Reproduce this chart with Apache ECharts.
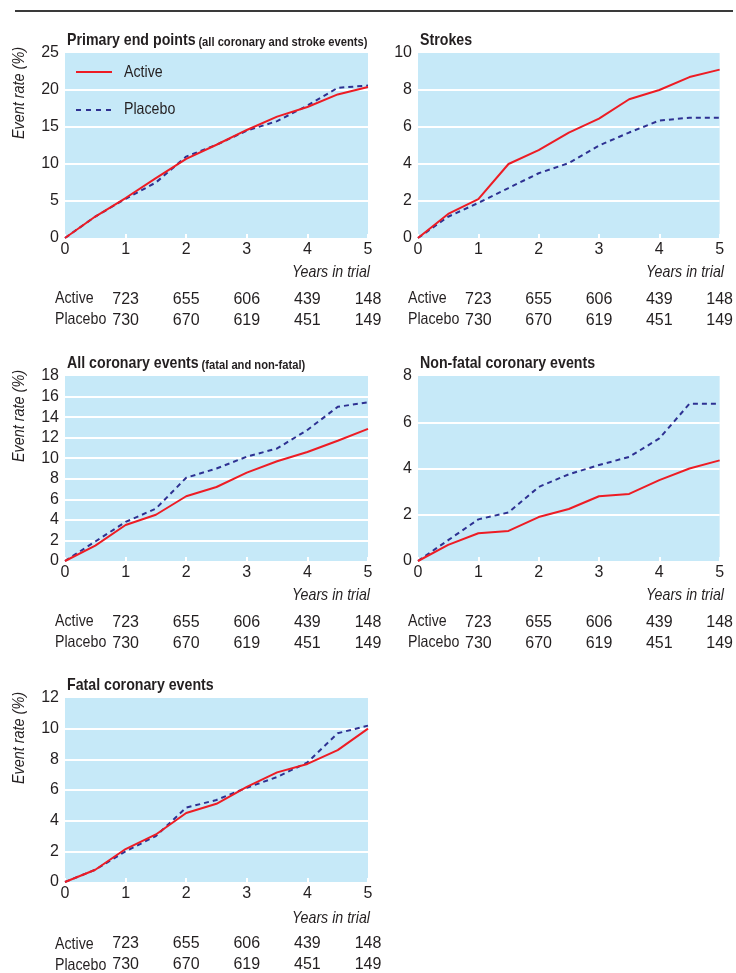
<!DOCTYPE html>
<html>
<head>
<meta charset="utf-8">
<script src="https://cdn.jsdelivr.net/npm/echarts@6/dist/echarts.min.js"></script>
<style>
html,body{margin:0;padding:0;background:#fff;}
#c{width:736px;height:973px;}
</style>
</head>
<body>
<div id="c"></div>
<script>
// ---- data ----
var years = [0, 0.5, 1, 1.5, 2, 2.5, 3, 3.5, 4, 4.5, 5];
var countTicks = [1, 2, 3, 4, 5];
var activeN = [723, 655, 606, 439, 148];
var placeboN = [730, 670, 619, 451, 149];

var titles = ["Primary end points", "Strokes", "All coronary events", "Non-fatal coronary events", "Fatal coronary events"];
var subtitles = ["(all coronary and stroke events)", "", "(fatal and non-fatal)", "", ""];
var yMax = [25, 10, 18, 8, 12];
var yStep = [5, 2, 2, 2, 2];

var primaryActive  = [0, 2.9, 5.4, 8.1, 10.7, 12.6, 14.6, 16.4, 17.7, 19.4, 20.4];
var primaryPlacebo = [0, 2.9, 5.3, 7.5, 11.0, 12.6, 14.5, 15.8, 17.9, 20.3, 20.6];
var strokesActive  = [0, 1.3, 2.1, 4.0, 4.75, 5.7, 6.45, 7.5, 8.0, 8.7, 9.1];
var strokesPlacebo = [0, 1.15, 1.9, 2.7, 3.5, 4.05, 5.0, 5.7, 6.35, 6.5, 6.5];
var allCorActive   = [0, 1.5, 3.5, 4.5, 6.3, 7.2, 8.6, 9.7, 10.6, 11.7, 12.85];
var allCorPlacebo  = [0, 1.9, 3.8, 5.1, 8.1, 9.0, 10.15, 10.95, 12.75, 15.0, 15.45];
var nonFatalActive = [0, 0.7, 1.2, 1.3, 1.9, 2.25, 2.8, 2.9, 3.5, 4.0, 4.35];
var nonFatalPlacebo= [0, 0.9, 1.8, 2.1, 3.2, 3.75, 4.15, 4.5, 5.3, 6.8, 6.8];
var fatalActive    = [0, 0.8, 2.15, 3.1, 4.5, 5.1, 6.2, 7.15, 7.7, 8.6, 10.0];
var fatalPlacebo   = [0, 0.8, 2.0, 3.0, 4.85, 5.35, 6.15, 6.85, 7.8, 9.7, 10.2];

var activeSets = [primaryActive, strokesActive, allCorActive, nonFatalActive, fatalActive];
var placeboSets = [primaryPlacebo, strokesPlacebo, allCorPlacebo, nonFatalPlacebo, fatalPlacebo];

// ---- layout / style ----
var FONT = '"Liberation Sans", Arial, sans-serif';
var TXT = '#231f20';
var RED = '#ed1c24';
var BLUE = '#2e3192';
var NARROW = 0.86;
var grids = [
  {left: 65, top: 53, width: 303, height: 185, yName: true},
  {left: 418, top: 53, width: 304, height: 185, yName: false},
  {left: 65, top: 376, width: 303, height: 185, yName: true},
  {left: 418, top: 376, width: 304, height: 185, yName: false},
  {left: 65, top: 698, width: 303, height: 186, yName: true}
];

function pairs(xs, ys) { return xs.map(function (x, i) { return [x, ys[i]]; }); }
function txt(x, y, s, extra) {
  var st = {text: s, fontFamily: FONT, fontSize: 16.5, fill: TXT, align: 'left', verticalAlign: 'middle'};
  for (var k in extra) st[k] = extra[k];
  return {type: 'text', x: x, y: y, scaleX: NARROW, style: st, silent: true};
}

var option = {
  animation: false,
  textStyle: {fontFamily: FONT, color: TXT},
  grid: [], xAxis: [], yAxis: [], series: [], graphic: []
};

grids.forEach(function (g, i) {
  option.grid.push({left: g.left, top: g.top, width: g.width, height: g.height,
    show: true, backgroundColor: '#c6e9f8', borderWidth: 0});
  var bottom = g.top + g.height;
  option.xAxis.push({
    type: 'value', gridIndex: i, min: 0, max: 5, interval: 1, position: 'bottom',
    axisLine: {show: false},
    axisTick: {show: true, inside: true, length: 4, lineStyle: {color: '#ffffff', width: 2}},
    splitLine: {show: false},
    axisLabel: {margin: 4, fontSize: 16, color: TXT, fontFamily: FONT, lineHeight: 16}
  });
  [[activeN, 54], [placeboN, 75]].forEach(function (r) {
    option.xAxis.push({
      type: 'value', gridIndex: i, min: 0, max: 5, interval: 1, position: 'bottom', offset: r[1],
      axisLine: {show: false}, axisTick: {show: false}, splitLine: {show: false},
      axisLabel: {margin: 0, fontSize: 16, color: TXT, fontFamily: FONT, lineHeight: 16,
        formatter: function (v) { var k = countTicks.indexOf(v); return k >= 0 ? String(r[0][k]) : ''; }}
    });
  });
  option.yAxis.push({
    type: 'value', gridIndex: i, min: 0, max: yMax[i], interval: yStep[i],
    axisLine: {show: false}, axisTick: {show: false},
    splitLine: {show: true, showMinLine: false, showMaxLine: false, lineStyle: {color: '#ffffff', width: 2}},
    axisLabel: {margin: 6, fontSize: 16, color: TXT, fontFamily: FONT}
  });
  option.series.push({
    name: 'Active', type: 'line', xAxisIndex: i * 3, yAxisIndex: i,
    data: pairs(years, activeSets[i]), symbol: 'none', z: 3,
    lineStyle: {color: RED, width: 2}, itemStyle: {color: RED}
  });
  option.series.push({
    name: 'Placebo', type: 'line', xAxisIndex: i * 3, yAxisIndex: i,
    data: pairs(years, placeboSets[i]), symbol: 'none', z: 2,
    lineStyle: {color: BLUE, width: 2, type: [5, 4]}, itemStyle: {color: BLUE}
  });
  // panel title
  option.graphic.push({
    type: 'text', x: g.left + 2, y: g.top - 4, scaleX: NARROW, silent: true,
    style: {
      text: '{a|' + titles[i] + '}' + (subtitles[i] ? ' {b|' + subtitles[i] + '}' : ''),
      verticalAlign: 'bottom', align: 'left',
      rich: {
        a: {fontFamily: FONT, fontWeight: 'bold', fontSize: 16.5, fill: TXT, verticalAlign: 'bottom'},
        b: {fontFamily: FONT, fontWeight: 'bold', fontSize: 13, fill: TXT, verticalAlign: 'bottom'}
      }
    }
  });
  option.graphic.push(txt(g.left + g.width + 2, bottom + 34, 'Years in trial', {fontStyle: 'italic', align: 'right'}));
  option.graphic.push(txt(g.left - 10, bottom + 60.5, 'Active'));
  option.graphic.push(txt(g.left - 10, bottom + 81.5, 'Placebo'));
  if (g.yName) {
    var yn = txt(20, g.top + 40, 'Event rate (%)', {fontStyle: 'italic', align: 'center', fontSize: 16});
    yn.rotation = Math.PI / 2; yn.scaleX = 0.9;
    option.graphic.push(yn);
  }
});

// legend keys (first panel)
option.graphic.push({type: 'line', silent: true, shape: {x1: 76, y1: 72, x2: 112, y2: 72}, style: {stroke: RED, lineWidth: 2}});
option.graphic.push({type: 'line', silent: true, shape: {x1: 76, y1: 110, x2: 113, y2: 110}, style: {stroke: BLUE, lineWidth: 2, lineDash: [5, 5]}});
option.graphic.push(txt(124, 72, 'Active'));
option.graphic.push(txt(124, 109, 'Placebo'));

// top rule
option.graphic.push({type: 'rect', silent: true, shape: {x: 15, y: 10, width: 718, height: 2}, style: {fill: '#3a3a3a'}});

var chart = echarts.init(document.getElementById('c'), null, {renderer: 'canvas'});
chart.setOption(option);
</script>
</body>
</html>
